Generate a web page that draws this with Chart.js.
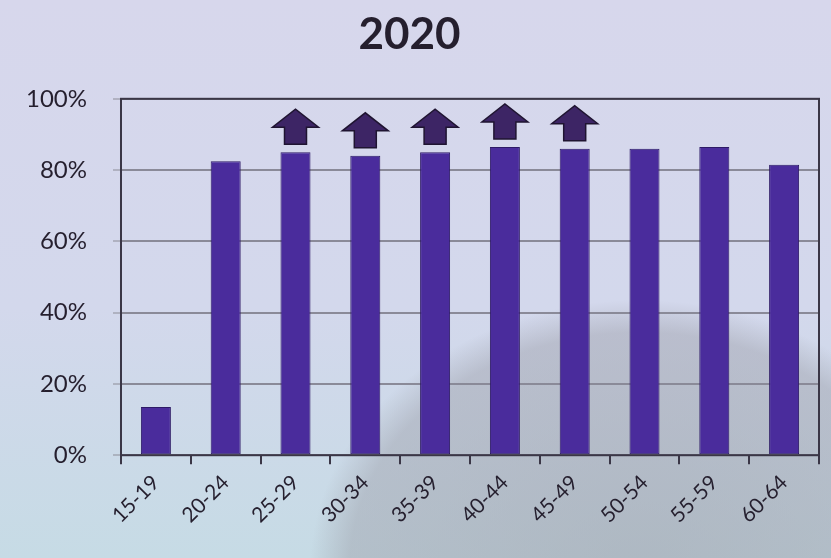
<!DOCTYPE html>
<html>
<head>
<meta charset="utf-8">
<script src="https://cdn.jsdelivr.net/npm/chart.js@4"></script>
<style>
    html, body {
        margin: 0;
        padding: 0;
        width: 831px;
        height: 558px;
        overflow: hidden;
    }
    body {
        background:
            radial-gradient(ellipse 330px 270px at 640px 570px, rgba(150, 150, 160, 0.5) 0%, rgba(150, 150, 160, 0.4) 88%, rgba(150, 150, 160, 0) 100%),
            linear-gradient(to bottom, #d7d7ec 0%, #d3d8ec 55%, #c6dbe5 100%);
    }
    #wrap {
        position: relative;
        width: 831px;
        height: 558px;
    }
</style>
</head>
<body>
<div id="wrap"><canvas id="chart"></canvas></div>
<script>
// Age groups along the x axis
const ageGroups = ['15-19', '20-24', '25-29', '30-34', '35-39', '40-44', '45-49', '50-54', '55-59', '60-64'];

// Share per age group, in percent
const shares = [13.5, 82.5, 85, 84, 85, 86.5, 86, 86, 86.5, 81.5];

// Which groups carry an "up" arrow above the bar
const upArrows = [false, false, true, true, true, true, true, false, false, false];

const yTicks = [0, 20, 40, 60, 80, 100];

const barColor = '#4a2c9c';
const textColor = '#251f2e';
const fontFamily = 'Lato, "Open Sans", sans-serif';

// Draws the box around the plot area
const framePlugin = {
    id: 'frame',
    afterDraw(chart) {
        const { ctx, chartArea } = chart;
        ctx.save();
        ctx.strokeStyle = '#3a3646';
        ctx.lineWidth = 2;
        ctx.strokeRect(chartArea.left, chartArea.top, chartArea.right - chartArea.left, chartArea.bottom - chartArea.top);
        ctx.restore();
    }
};

// Up arrows sitting on top of selected bars
const arrowPlugin = {
    id: 'upArrows',
    afterDatasetsDraw(chart) {
        const { ctx } = chart;
        const meta = chart.getDatasetMeta(0);
        ctx.save();
        meta.data.forEach((bar, i) => {
            if (!upArrows[i]) return;
            const cx = bar.x;
            const base = bar.y - 8;
            const h = 35, headH = 18, headW = 23, stemW = 11;
            ctx.beginPath();
            ctx.moveTo(cx - stemW, base);
            ctx.lineTo(cx - stemW, base - h + headH);
            ctx.lineTo(cx - headW, base - h + headH);
            ctx.lineTo(cx, base - h);
            ctx.lineTo(cx + headW, base - h + headH);
            ctx.lineTo(cx + stemW, base - h + headH);
            ctx.lineTo(cx + stemW, base);
            ctx.closePath();
            ctx.fillStyle = '#3d2565';
            ctx.fill();
            ctx.strokeStyle = '#1f1431';
            ctx.lineWidth = 1.5;
            ctx.stroke();
        });
        ctx.restore();
    }
};

const ctx = document.getElementById('chart').getContext('2d');

new Chart(ctx, {
    type: 'bar',
    data: {
        labels: ageGroups,
        datasets: [{
            data: shares,
            backgroundColor: barColor,
            borderColor: '#2d1a66',
            borderWidth: 1,
            borderSkipped: false,
            categoryPercentage: 1,
            barPercentage: 0.43
        }]
    },
    options: {
        responsive: true,
        maintainAspectRatio: false,
        animation: false,
        layout: {
            padding: { left: 0, right: 12, top: 6, bottom: 24 }
        },
        plugins: {
            legend: { display: false },
            tooltip: { enabled: false },
            title: {
                display: true,
                text: '2020',
                color: textColor,
                font: { family: fontFamily, size: 44, weight: 'bold' },
                padding: { top: 2, bottom: 38 }
            }
        },
        scales: {
            x: {
                offset: true,
                grid: {
                    display: true,
                    offset: true,
                    drawOnChartArea: false,
                    drawTicks: true,
                    tickLength: 9,
                    color: '#3a3646',
                    lineWidth: 2
                },
                border: { display: false },
                ticks: {
                    color: textColor,
                    minRotation: 45,
                    maxRotation: 45,
                    padding: 6,
                    font: { family: fontFamily, size: 21 }
                }
            },
            y: {
                min: 0,
                max: 100,
                afterBuildTicks(axis) {
                    axis.ticks = yTicks.map(v => ({ value: v }));
                },
                grid: {
                    color: '#8a8a98',
                    lineWidth: 2,
                    drawTicks: true,
                    tickLength: 8,
                    tickColor: 'rgba(140, 140, 150, 0.5)'
                },
                border: { display: false },
                ticks: {
                    color: textColor,
                    padding: 26,
                    font: { family: fontFamily, size: 24 },
                    callback: value => value + '%'
                }
            }
        }
    },
    plugins: [framePlugin, arrowPlugin]
});
</script>
</body>
</html>
